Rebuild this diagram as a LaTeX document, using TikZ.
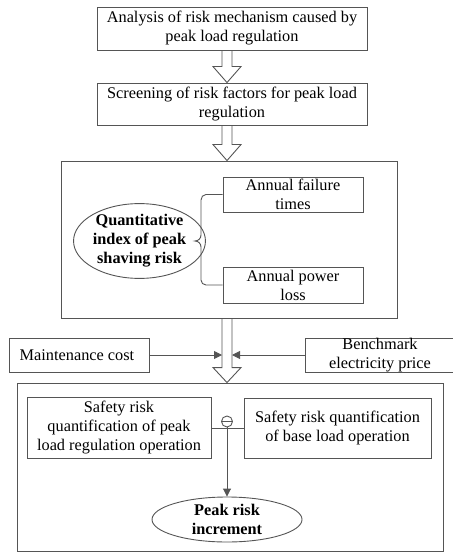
\documentclass[tikz,border=0pt]{standalone}
\usepackage{fontspec}
\setmainfont{Liberation Serif}
\usetikzlibrary{
  shapes.geometric,
  positioning,
  calc,
  arrows.meta}
\definecolor{linecolor}{RGB}{85,85,85}
\newcommand{\figfont}{\fontsize{16.3}{19}\selectfont}
\tikzset{
  %% stage : a rectangular step of the procedure
  stage/.style={
    rectangle,
    draw=linecolor,
    line width=0.9pt,
    inner sep=0pt,
    align=center
  },
  %% index : a bold result in an ellipse
  index/.style={
    ellipse,
    draw=linecolor,
    line width=0.9pt,
    inner sep=0pt,
    font=\figfont\bfseries,
    align=center
  },
  %% frame : frame around a group of stages
  frame/.style={
    rectangle,
    draw=linecolor,
    line width=0.9pt,
    inner sep=0pt
  },
  %% blockarrow : hollow arrow between stages
  blockarrow/.style={draw=linecolor, line width=0.9pt},
  %% connector : thin arrow
  connector/.style={
    draw=linecolor,
    line width=0.9pt,
    -{Triangle[length=8pt, width=8pt]}
  }
}
%% hollow arrow: #1 start, #2 tip, #3 head length
\newcommand{\hollowarrow}[3]{%
  \path[blockarrow] let \p1=(#1), \p2=(#2) in
    (\x1-5pt,\y1) -- (\x1-5pt,\y2+#3) -- (\x1-14pt,\y2+#3)
    -- (\x1,\y2) -- (\x1+14pt,\y2+#3) -- (\x1+5pt,\y2+#3)
    -- (\x1+5pt,\y1);}

\begin{document}
\begin{tikzpicture}
  [x=1pt,
  y=-1pt,
  font=\figfont]

  \useasboundingbox (0,0) rectangle (452,553);

  %% Main workflow
  \coordinate (axis) at (227,0);

  \node (analysis) [stage, minimum width=270, minimum height=43]
  at (232,28.5) {%
    Analysis of risk mechanism caused by\\
    peak load regulation
  };

  \node (screening) [stage, minimum width=270, minimum height=42]
  at (232,104) {%
    Screening of risk factors for peak load\\
    regulation
  };

  \node (quant) [frame, minimum width=336, minimum height=157]
  at (229,239.5) {};

  \node (index) [index, minimum width=115, minimum height=58]
  at (139.5,241) {%
    Quantitative\\
    index of peak\\
    shaving risk
  };

  \node (failure) [stage, minimum width=140, minimum height=35]
  at (293,194.5) {%
    Annual failure\\
    times
  };

  \node (loss) [stage, minimum width=140, minimum height=36]
  at (293,285) {%
    Annual power\\
    loss
  };

  \node (maint) [stage, minimum width=140, minimum height=34]
  at (79,355) {%
    Maintenance cost
  };

  \node (bench) [stage, minimum width=150, minimum height=34]
  at (380,355) {%
    Benchmark\\
    electricity price
  };

  \node (incr) [frame, minimum width=426, minimum height=168]
  at (230,467) {};

  \node (peakop) [stage, minimum width=184, minimum height=61]
  at (119,428) {%
    Safety risk\\
    quantification of peak\\
    load regulation operation
  };

  \node (baseop) [stage, minimum width=187, minimum height=60]
  at (337.5,428) {%
    Safety risk quantification\\
    of base load operation
  };

  \node (minus) [circle, draw=linecolor, line width=0.9pt,
  minimum size=11pt, inner sep=0pt] at (227,421.5) {};
  \draw[linecolor, line width=0.9pt] (minus.west) -- (minus.east);

  \node (peakrisk) [index, minimum width=150, minimum height=45]
  at (227,519.5) {%
    Peak risk\\
    increment
  };

  %% Hollow arrows
  \hollowarrow{analysis.south -| axis}{screening.north -| axis}{16pt}
  \hollowarrow{screening.south -| axis}{quant.north -| axis}{16pt}
  \hollowarrow{quant.south -| axis}{incr.north -| axis}{15pt}

  %% Brace
  \coordinate (bracetip) at (195,241);
  \draw[linecolor, line width=0.9pt]
  (failure.west) -- (206,194.5) to[out=180, in=90] (201,200)
  -- (201,235) to[out=-90, in=0] (bracetip)
  to[out=0, in=90] (201,247) -- (201,280)
  to[out=-90, in=180] (206,285) -- (loss.west);

  %% Cost inputs
  \coordinate (joinl) at (222,355);
  \coordinate (joinr) at (232,355);
  \draw[connector] (maint) -- (joinl);
  \draw[connector] (bench) -- (joinr);

  %% Difference
  \draw[linecolor, line width=0.9pt] (peakop.east) -- (baseop.west);
  \draw[connector] (minus.south) -- (peakrisk.north);

\end{tikzpicture}
\end{document}
